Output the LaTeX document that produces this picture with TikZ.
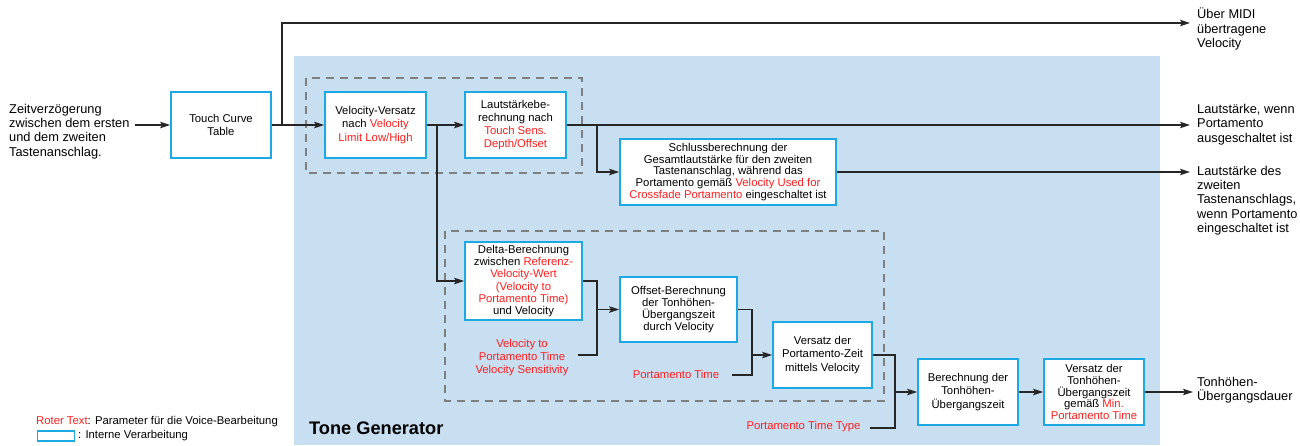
\documentclass[tikz,border=0pt]{standalone}
\usepackage{fontspec}
\setmainfont{Liberation Sans}
\usetikzlibrary{arrows.meta}
\definecolor{bgblue}{HTML}{C8DFF2}
\definecolor{boxcyan}{HTML}{1BA8E3}
\definecolor{tred}{HTML}{FF1E1E}
\definecolor{dashgray}{HTML}{7F7F7F}
\newcommand{\rt}[1]{\textcolor{tred}{#1}}
\begin{document}
\begin{tikzpicture}[x=1pt,y=-1pt,
 proc/.style={draw=boxcyan, line width=1.8pt, fill=white, align=center, inner sep=0pt, font=\fontsize{11.3}{12.5}\selectfont},
 side/.style={align=left, inner sep=0pt, font=\fontsize{12.8}{14.3}\selectfont},
 param/.style={align=center, inner ysep=0pt, inner xsep=9pt, text=tred, font=\fontsize{11.3}{13.3}\selectfont},
 conn/.style={line width=1.2pt, draw=black!85},
 arr/.style={conn, -{Stealth[length=10pt,width=6.5pt,inset=2pt]}},
 grp/.style={draw=dashgray, line width=2.6pt, dash pattern=on 8pt off 6pt},
]
\useasboundingbox (0,0) rectangle (1300,445);
% background
\fill[bgblue] (294,56) rectangle (1160,445);
% groups
\draw[grp] (306,78) rectangle (582,173);
\draw[grp] (445,231) rectangle (884,401);

% boxes
\node[proc, minimum width=100pt, minimum height=66pt] (tct) at (221,125) {Touch Curve\\Table};
\node[proc, minimum width=101pt, minimum height=66pt, font=\fontsize{11.3}{13.3}\selectfont] (vv) at (375.5,125) {Velocity-Versatz\\nach \rt{Velocity}\\\rt{Limit Low/High}};
\node[proc, minimum width=101pt, minimum height=66pt, font=\fontsize{11.3}{13}\selectfont] (ls) at (515.5,125) {Lautstärkebe-\\rechnung nach\\\rt{Touch Sens.}\\\rt{Depth/Offset}};
\node[proc, minimum width=216pt, minimum height=66pt, font=\fontsize{11.3}{11.8}\selectfont] (sb) at (728,172) {Schlussberechnung der\\Gesamtlautstärke für den zweiten\\Tastenanschlag, während das\\Portamento gemäß \rt{Velocity Used for}\\\rt{Crossfade Portamento} eingeschaltet ist};
\node[proc, minimum width=117pt, minimum height=78pt, font=\fontsize{11.3}{12.2}\selectfont] (delta) at (523.5,281) {Delta-Berechnung\\zwischen \rt{Referenz-}\\\rt{Velocity-Wert}\\\rt{(Velocity to}\\\rt{Portamento Time)}\\und Velocity};
\node[proc, minimum width=117pt, minimum height=65pt, font=\fontsize{11.3}{12.2}\selectfont] (off) at (678.5,309.5) {Offset-Berechnung\\der Tonhöhen-\\Übergangszeit\\durch Velocity};
\node[proc, minimum width=99pt, minimum height=66pt, font=\fontsize{11.3}{13.3}\selectfont] (vpz) at (822.5,355) {Versatz der\\Portamento-Zeit\\mittels Velocity};
\node[proc, minimum width=100pt, minimum height=66pt, font=\fontsize{11.3}{13.3}\selectfont] (ber) at (968,392) {Berechnung der\\Tonhöhen-\\Übergangszeit};
\node[proc, minimum width=100pt, minimum height=66pt, font=\fontsize{11.3}{11.8}\selectfont] (vt) at (1094,392) {Versatz der\\Tonhöhen-\\Übergangszeit\\gemäß \rt{Min.}\\\rt{Portamento Time}};

% side labels
\node[side, anchor=west] (delay) at (9,131.5) {Zeitverzögerung\\zwischen dem ersten\\und dem zweiten\\Tastenanschlag.};
\node[side, anchor=west] (midi) at (1197,29) {Über MIDI\\übertragene\\Velocity};
\node[side, anchor=west] (loff) at (1197,124.5) {Lautstärke, wenn\\Portamento\\ausgeschaltet ist};
\node[side, anchor=west] (lon) at (1197,200.5) {Lautstärke des\\zweiten\\Tastenanschlags,\\wenn Portamento\\eingeschaltet ist};
\node[side, anchor=west] (dauer) at (1197,390) {Tonhöhen-\\Übergangsdauer};

% parameter labels
\node[param] (vtp) at (522,357.5) {Velocity to\\Portamento Time\\Velocity Sensitivity};
\node[param, inner xsep=13pt] (pt) at (676,374) {Portamento Time};
\node[param] (ptt) at (803.5,427) {Portamento Time Type};

% title and legend
\node[anchor=west, inner sep=0pt, font=\fontsize{18.2}{21}\selectfont\bfseries] (tg) at (309,428) {Tone Generator};
\node[anchor=west, inner sep=0pt, font=\fontsize{11.3}{13}\selectfont] (leg1) at (36,422) {\rt{Roter Text}: Parameter für die Voice-Bearbeitung};
\node[draw=boxcyan, line width=1.3pt, minimum width=37pt, minimum height=10pt, inner sep=0pt] (legbox) at (56,436) {};
\node[anchor=west, inner sep=0pt, font=\fontsize{11.3}{13}\selectfont] (leg2) at (78,436) {: Interne Verarbeitung};

% coordinates
\coordinate (b1) at (282,125);
\coordinate (b2) at (437,125);
\coordinate (b3) at (597,125);
\coordinate (o1) at (1190,23);
\coordinate (o2) at (1190,125);
\coordinate (o3) at (1190,172);
\coordinate (o4) at (1193,392);
\coordinate (j1) at (597,355);
\coordinate (j2) at (752,375);
\coordinate (j3) at (895,428);

% connectors
\draw[arr] ([xshift=5pt]delay.east |- tct.west) -- (tct.west);
\draw[arr] (tct.east) -- (vv.west);
\draw[arr] (b1) |- (o1);
\draw[arr] (vv.east) -- (ls.west);
\draw[arr] (b2) |- (delta.west);
\draw[arr] (ls.east) -- (o2);
\draw[arr] (b3) |- (sb.west);
\draw[arr] (sb.east) -- (o3);
\draw[conn] (delta.east) -| (j1) -- (j1 -| vtp.east);
\draw[arr] (j1 |- off.west) -- (off.west);
\draw[conn] (off.east) -| (j2) -- (j2 -| pt.east);
\draw[arr] (j2 |- vpz.west) -- (vpz.west);
\draw[conn] (vpz.east) -| (j3) -- (j3 -| ptt.east);
\draw[arr] (j3 |- ber.west) -- (ber.west);
\draw[arr] (ber.east) -- (vt.west);
\draw[arr] (vt.east) -- (o4);
\end{tikzpicture}
\end{document}
